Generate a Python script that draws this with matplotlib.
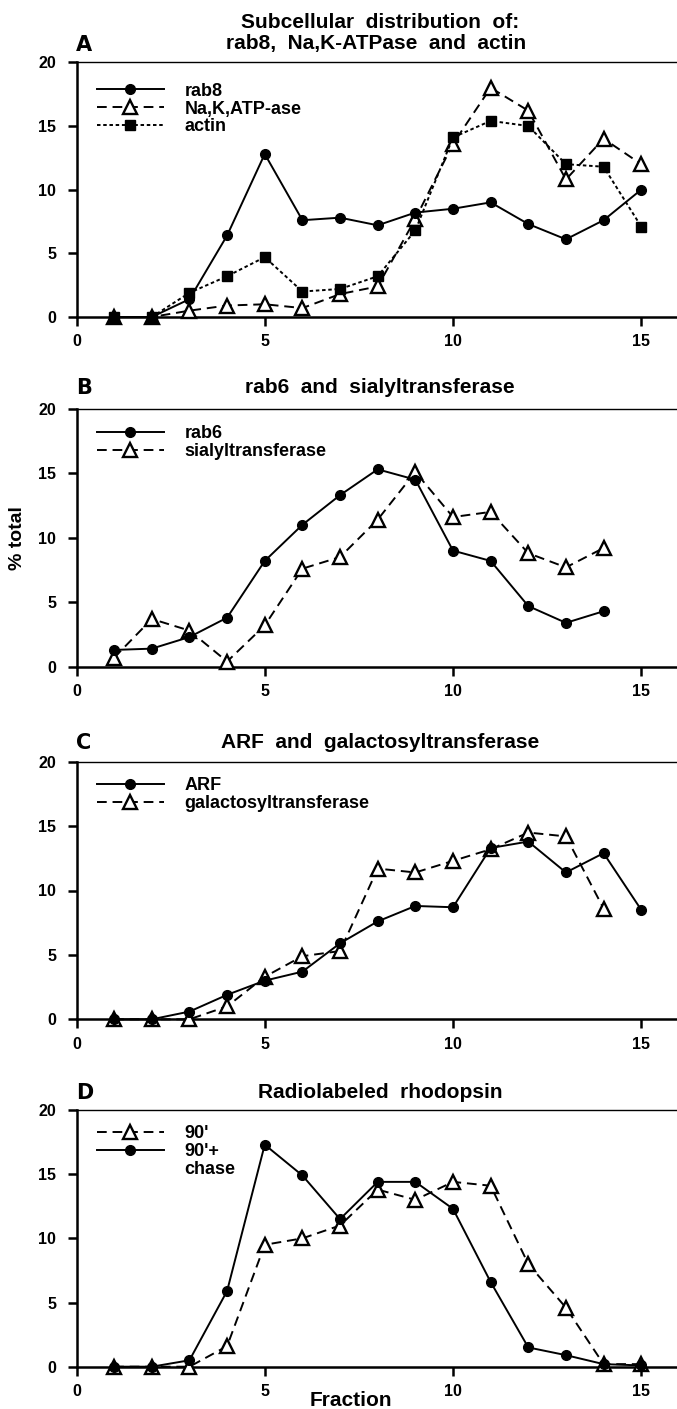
import matplotlib
matplotlib.use("Agg")
import matplotlib.pyplot as plt
from matplotlib.lines import Line2D

plt.rcParams['font.family'] = ['Liberation Sans', 'DejaVu Sans']
plt.rcParams['font.weight'] = 'bold'
plt.rcParams['xtick.labelsize'] = 11.5
plt.rcParams['ytick.labelsize'] = 11.5

# fraction numbers
frac15 = list(range(1, 16))
frac14 = list(range(1, 15))

# Panel A
rab8 = [0, 0, 1.4, 6.4, 12.8, 7.6, 7.8, 7.2, 8.2, 8.5, 9.0, 7.3, 6.1, 7.6, 10.0]
nak_atpase = [0, 0, 0.5, 0.9, 1.0, 0.7, 1.8, 2.4, 7.7, 13.6, 18.0, 16.2, 10.8, 14.0, 12.0]
actin = [0, 0, 1.9, 3.2, 4.7, 2.0, 2.2, 3.2, 6.8, 14.1, 15.4, 15.0, 12.0, 11.8, 7.1]

# Panel B
rab6 = [1.3, 1.4, 2.3, 3.8, 8.2, 11.0, 13.3, 15.3, 14.5, 9.0, 8.2, 4.7, 3.4, 4.3]
sialyl = [0.7, 3.7, 2.8, 0.4, 3.2, 7.6, 8.5, 11.4, 15.1, 11.6, 12.0, 8.8, 7.7, 9.2]

# Panel C
arf = [0, 0, 0.6, 1.9, 3.0, 3.7, 5.9, 7.6, 8.8, 8.7, 13.3, 13.8, 11.4, 12.9, 8.5]
galacto = [0, 0, 0, 1.0, 3.3, 4.9, 5.3, 11.7, 11.4, 12.3, 13.2, 14.5, 14.2, 8.6]

# Panel D
rho_90 = [0, 0, 0, 1.6, 9.5, 10.0, 11.0, 13.8, 13.0, 14.4, 14.1, 8.0, 4.6, 0.2, 0.2]
rho_chase = [0, 0, 0.5, 5.9, 17.3, 14.9, 11.5, 14.4, 14.4, 12.3, 6.6, 1.5, 0.9, 0.2, 0.1]

W, H = 677, 1409
fig = plt.figure(figsize=(W / 100, H / 100), dpi=100)

# axes rectangles in pixels: (top, bottom)
rows = [(62.3, 317.0), (408.7, 666.7), (761.7, 1019.3), (1110.0, 1366.7)]
x_left = 76.5

def make_axes(top, bottom):
    ax = fig.add_axes([x_left / W, 1 - bottom / H, (W - x_left) / W, (bottom - top) / H])
    ax.set_xlim(0, 15.95)
    ax.set_ylim(0, 20)
    ax.set_xticks([0, 5, 10, 15])
    ax.set_yticks([0, 5, 10, 15, 20])
    ax.spines['right'].set_visible(False)
    ax.spines['top'].set_linewidth(1.0)
    ax.spines['left'].set_linewidth(1.8)
    ax.spines['bottom'].set_linewidth(1.8)
    ax.tick_params(axis='x', length=6.5, width=1.8, pad=6)
    ax.tick_params(axis='y', length=6.5, width=1.8, pad=8)
    return ax

solid = dict(color='black', lw=1.4, marker='o', ms=7, mfc='black', clip_on=False)
dashed = dict(color='black', lw=1.4, dashes=(5, 3), marker='^', ms=9.5, mfc='white',
              mew=1.7, clip_on=False)
dotted = dict(color='black', lw=1.4, dashes=(1.8, 1.4), marker='s', ms=6.5, mfc='black',
              clip_on=False)

def legend(ax, handles, labels, y):
    leg = ax.legend(handles, labels, loc='upper left', bbox_to_anchor=(0.034, y),
                    frameon=False, borderpad=0, borderaxespad=0, handlelength=3.7,
                    handletextpad=1.15, labelspacing=0.05, fontsize=13, numpoints=1)
    return leg

# A
axA = make_axes(*rows[0])
lA1, = axA.plot(frac15, nak_atpase, zorder=3, **dashed)
lA2, = axA.plot(frac15, actin, zorder=4, **dotted)
lA0, = axA.plot(frac15, rab8, zorder=5, **solid)
legend(axA, [lA0, lA1, lA2], ['rab8', 'Na,K,ATP-ase', 'actin'], 0.92)

# B
axB = make_axes(*rows[1])
lB1, = axB.plot(frac14, sialyl, zorder=3, **dashed)
lB0, = axB.plot(frac14, rab6, zorder=4, **solid)
legend(axB, [lB0, lB1], ['rab6', 'sialyltransferase'], 0.935)
axB.set_ylabel('% total', fontsize=14, fontweight='bold', labelpad=9)

# C
axC = make_axes(*rows[2])
lC1, = axC.plot(frac14, galacto, zorder=3, **dashed)
lC0, = axC.plot(frac15, arf, zorder=4, **solid)
legend(axC, [lC0, lC1], ['ARF', 'galactosyltransferase'], 0.94)

# D
axD = make_axes(*rows[3])
lD0, = axD.plot(frac15, rho_90, zorder=3, **dashed)
lD1, = axD.plot(frac15, rho_chase, zorder=4, **solid)
blank = Line2D([], [], linestyle='none')
legend(axD, [lD0, lD1, blank], ["90'", "90'+", 'chase'], 0.94)

# titles and panel letters
cx = 380 / W
tkw = dict(ha='center', va='center', fontsize=15, fontweight='bold')
fig.text(cx, 1 - 23 / H, 'Subcellular  distribution  of:', **tkw)
fig.text(376 / W, 1 - 43 / H, 'rab8,  Na,K-ATPase  and  actin', **tkw)
fig.text(cx, 1 - 388 / H, 'rab6  and  sialyltransferase', **tkw)
fig.text(cx, 1 - 743 / H, 'ARF  and  galactosyltransferase', **tkw)
fig.text(cx, 1 - 1093 / H, 'Radiolabeled  rhodopsin', **tkw)

for letter, yc in zip('ABCD', [45, 388, 743, 1093]):
    fig.text(76 / W, 1 - yc / H, letter, ha='left', va='center', fontsize=15,
             fontweight='heavy', family='DejaVu Sans')

fig.text(351 / W, 1 - 1400 / H, 'Fraction', ha='center', va='center', fontsize=15,
         fontweight='bold')

fig.savefig('out.png', dpi=100)
